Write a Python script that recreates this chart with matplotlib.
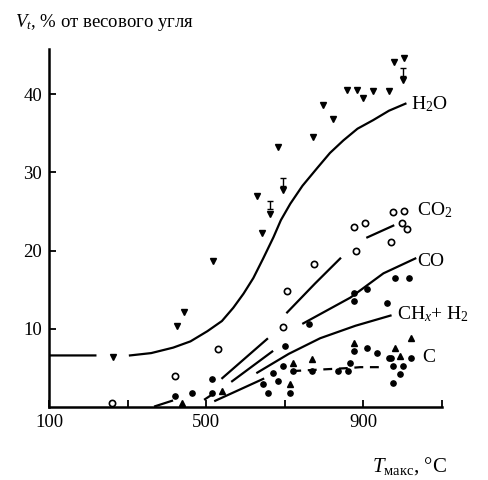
import numpy as np
import matplotlib
matplotlib.use("Agg")
import matplotlib.pyplot as plt

plt.rcParams['font.family'] = ['Liberation Serif', 'DejaVu Serif']
plt.rcParams['mathtext.fontset'] = 'custom'
plt.rcParams['mathtext.rm'] = 'Liberation Serif'
plt.rcParams['mathtext.it'] = 'Liberation Serif:italic'

nan = np.nan

# --- точки (T, °C ; V, %) ---
h2o_t = [263, 426, 444, 518, 629, 642, 663, 682, 696, 773, 798, 823, 858, 884, 900, 925, 964, 977, 1004, 1002]
h2o_v = [6.4, 10.4, 12.1, 18.7, 27.0, 22.2, 24.7, 33.3, 27.7, 34.5, 38.6, 36.8, 40.5, 40.5, 39.5, 40.4, 40.4, 44.1, 44.7, 41.8]
h2o_err_t = [696, 1002, 663]
h2o_err_v = [27.7, 41.8, 24.7]

co2_t = [260, 421, 531, 696, 706, 775, 880, 875, 905, 969, 976, 1004, 999, 1012]
co2_v = [0.5, 4.0, 7.4, 10.3, 14.9, 18.3, 19.9, 23.0, 23.6, 21.1, 24.9, 25.1, 23.6, 22.8]

co_t = [762, 875, 875, 910, 981, 1015]
co_v = [10.6, 14.6, 13.6, 15.1, 16.5, 16.5]

ch_t = [421, 464, 515, 515, 701, 961]
ch_v = [1.4, 1.8, 3.6, 1.8, 7.8, 13.3]

c_dot_t = [645, 658, 671, 683, 696, 714, 722, 770, 836, 862, 867, 875, 910, 935, 964, 969, 976, 1002, 994, 976, 1020]
c_dot_v = [2.9, 1.8, 4.4, 3.3, 5.3, 1.8, 4.6, 4.6, 4.6, 4.6, 5.6, 7.2, 7.6, 6.9, 6.3, 6.3, 5.3, 5.3, 4.2, 3.1, 6.3]
c_tri_t = [439, 541, 714, 722, 770, 875, 981, 994, 1020]
c_tri_v = [0.5, 2.0, 2.9, 5.6, 6.1, 8.2, 7.6, 6.5, 8.8]

# --- кривые ---
h2o_curve_t = [100, 218, nan, 306, 360, 416, 460, 503, 540, 569, 595, 620, 645, 671, 690, 714, 745, 783, 815, 849, 885, 925, 965, 1007]
h2o_curve_v = [6.6, 6.6, nan, 6.6, 6.9, 7.6, 8.4, 9.7, 11.0, 12.7, 14.5, 16.5, 19.0, 21.7, 23.9, 26.0, 28.3, 30.6, 32.5, 34.1, 35.6, 36.7, 37.9, 38.8]

co2_curve_t = [541, 655, nan, 706, 777, 841, nan, 910, 976]
co2_curve_v = [3.7, 8.7, nan, 12.1, 15.8, 19.0, nan, 21.7, 23.2]

co_curve_t = [566, 668, nan, 747, 867, 951, 1032]
co_curve_v = [3.3, 7.1, nan, 10.7, 14.0, 17.1, 19.0]

ch_curve_t = [497, 518, nan, 630, 710, 790, 880, 969]
ch_curve_v = [1.0, 1.7, nan, 4.4, 6.8, 8.8, 10.4, 11.7]

c_curve_t = [370, 413, nan, 523, 645, 719, 867, 892, 948]
c_curve_v = [0.1, 0.8, nan, 0.8, 3.6, 4.6, 5.0, 5.1, 5.1]

x_ticks = [100, 300, 500, 700, 900, 1100]
x_tick_labels = ['100', '', '500', '', '900', '']
y_ticks = [10, 20, 30, 40]

fig = plt.figure(figsize=(4.88, 4.80), dpi=100)
ax = fig.add_axes([0.1004, 0.152, 0.8053, 0.746])

k = 'black'
ax.plot(h2o_curve_t, h2o_curve_v, color=k, lw=1.6)
ax.plot(co2_curve_t, co2_curve_v, color=k, lw=1.6)
ax.plot(co_curve_t, co_curve_v, color=k, lw=1.6)
ax.plot(ch_curve_t, ch_curve_v, color=k, lw=1.6)
ax.plot(c_curve_t[:5], c_curve_v[:5], color=k, lw=1.6)
ax.plot(c_curve_t[5:], c_curve_v[5:], color=k, lw=1.6, ls=(0, (4, 3)))

ax.errorbar(h2o_err_t, np.array(h2o_err_v) + 0.6, yerr=[[0] * 3, [1.0] * 3], fmt='none',
            ecolor=k, elinewidth=1.0, capsize=2.5)
ax.plot(h2o_t, h2o_v, ls='none', marker='v', ms=4.5, color=k)
ax.plot(co2_t, co2_v, ls='none', marker='o', ms=4.5, mfc='white', mec=k, mew=1.2)
ax.plot(co_t, co_v, ls='none', marker='o', ms=3.8, color=k)
ax.plot(ch_t, ch_v, ls='none', marker='o', ms=3.8, color=k)
ax.plot(c_dot_t, c_dot_v, ls='none', marker='o', ms=3.8, color=k)
ax.plot(c_tri_t, c_tri_v, ls='none', marker='^', ms=4.5, color=k)

# подписи кривых
fs = 14
ax.text(1022, 38.8, r'H$_2$O', fontsize=fs, va='center', ha='left')
ax.text(1036, 25.2, r'CO$_2$', fontsize=fs, va='center', ha='left')
ax.text(1036, 18.6, 'CO', fontsize=fs, va='center', ha='left')
ax.text(985, 11.9, r'CH$_x$+ H$_2$', fontsize=fs, va='center', ha='left')
ax.text(1050, 6.3, 'C', fontsize=fs, va='center', ha='left')

ax.set_xlim(100, 1100)
ax.set_ylim(0, 45.8)
ax.set_xticks(x_ticks)
ax.set_xticklabels(x_tick_labels)
ax.set_yticks(y_ticks)
ax.tick_params(direction='in', length=5, width=1.3, labelsize=13.5, pad=5)
ax.spines['top'].set_visible(False)
ax.spines['right'].set_visible(False)
for s in ('left', 'bottom'):
    ax.spines[s].set_linewidth(1.8)

fig.text(0.03, 0.953, r'$V_t$, % от весового угля', fontsize=13.5, ha='left', va='center')
fig.text(0.915, 0.03, r'$T_{\rm макс}$, °C', fontsize=15, ha='right', va='center')

fig.savefig('out.png', dpi=100)
